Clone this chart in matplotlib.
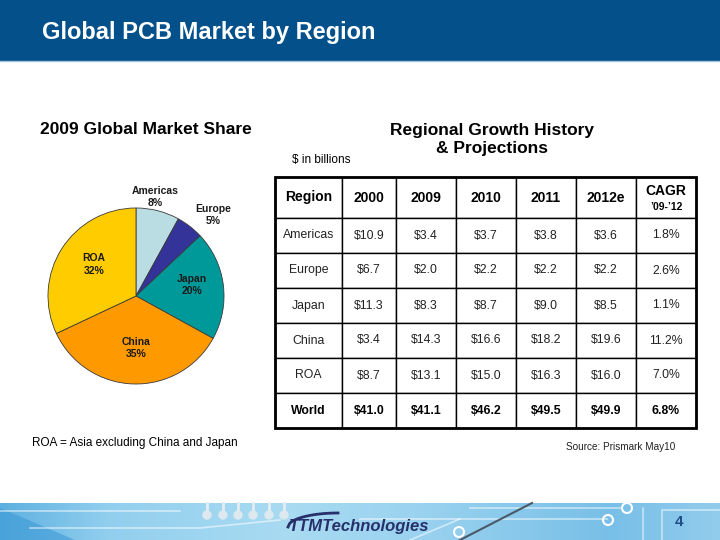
import numpy as np
import matplotlib.pyplot as plt
from matplotlib.patches import Rectangle, Circle, Polygon
from matplotlib.colors import LinearSegmentedColormap

plt.rcParams['font.family'] = ['Liberation Sans', 'DejaVu Sans']

# 2009 market share (pie)
regions = ['Americas', 'Europe', 'Japan', 'China', 'ROA']
share = [8, 5, 20, 35, 32]
pie_colors = ['#b9dde3', '#333399', '#009999', '#ff9900', '#ffcc00']

# regional growth table, $ in billions
col_labels = ['Region', '2000', '2009', '2010', '2011', '2012e', '']
row_names = ['Americas', 'Europe', 'Japan', 'China', 'ROA', 'World']
val_2000 = [10.9, 6.7, 11.3, 3.4, 8.7, 41.0]
val_2009 = [3.4, 2.0, 8.3, 14.3, 13.1, 41.1]
val_2010 = [3.7, 2.2, 8.7, 16.6, 15.0, 46.2]
val_2011 = [3.8, 2.2, 9.0, 18.2, 16.3, 49.5]
val_2012 = [3.6, 2.2, 8.5, 19.6, 16.0, 49.9]
cagr = [1.8, 2.6, 1.1, 11.2, 7.0, 6.8]


fig = plt.figure(figsize=(7.2, 5.4), dpi=100)
bg = fig.add_axes([0, 0, 1, 1])
bg.axis('off')

# footer band with a rough circuit look
grad = np.linspace(0, 1, 256).reshape(1, -1)
cmap = LinearSegmentedColormap.from_list('foot', [(0, '#5eb0e0'), (0.15, '#92cfee'), (0.4, '#a9dbf2'),
	(0.6, '#98d1ef'), (0.85, '#78bfe7'), (1, '#92ccec')])
bg.imshow(grad, extent=(0, 720, 540, 503), aspect='auto', cmap=cmap, zorder=0)
bg.add_patch(Polygon([(0, 508), (75, 540), (0, 540)], color='#3d9ad6', alpha=0.6, lw=0, zorder=1))
for xs, ys in [([0, 40, 180], [511, 511, 511]), ([30, 200, 280], [528, 528, 520]),
               ([360, 607], [519, 519]), ([470, 622], [508, 508]),
               ([643, 643], [508, 540]), ([662, 662, 720], [540, 510, 510]),
               ([410, 460], [540, 519])]:
	bg.plot(xs, ys, color='white', alpha=0.55, lw=1.2, zorder=1)
bg.plot([532, 460], [503, 540], color='#4a5a66', lw=1.5, zorder=2)
for cx in [207, 223, 238, 253, 269, 284]:
	bg.plot([cx, cx], [503, 515], color='#e4edf1', lw=2, zorder=1)
	bg.add_patch(Circle((cx, 515), 4, color='#dde9ef', zorder=2))
for cx, cy in [(459, 532), (608, 520), (627, 508)]:
	bg.add_patch(Circle((cx, cy), 5, fill=False, ec='white', lw=1.5, zorder=2))
sx = np.linspace(288, 338, 30)
bg.plot(sx, 527 - 14 * np.sqrt(1 - ((sx - 338) / 50) ** 2), color='#27306b', lw=2, zorder=3)
bg.text(359, 526, 'TTMTechnologies', fontsize=12, style='italic', weight='bold',
	color='#27306b', ha='center', va='center', zorder=3)
bg.text(679, 522, '4', fontsize=11, weight='bold', color='#1f4f8a', ha='center', va='center')

# header
bg.add_patch(Rectangle((0, 0), 720, 60, color='#03508a', zorder=1))
bg.plot([0, 720], [60.5, 60.5], color='#a8c6da', lw=1, zorder=1)
bg.text(42, 39, 'Global PCB Market by Region', fontsize=17, weight='bold',
	color='white', va='baseline', zorder=2)

bg.set_xlim(0, 720)
bg.set_ylim(540, 0)

# titles and notes
bg.text(40, 130, '2009 Global Market Share', fontsize=12.5, weight='bold', va='center')
bg.text(492, 130, 'Regional Growth History', fontsize=12.5, weight='bold', ha='center', va='center')
bg.text(492, 148, '& Projections', fontsize=12.5, weight='bold', ha='center', va='center')
bg.text(292, 160, '$ in billions', fontsize=8.5, va='center')
bg.text(32, 443, 'ROA = Asia excluding China and Japan', fontsize=8.5, va='center')
bg.text(566, 447, 'Source: Prismark May10', fontsize=7.2, va='center', color='#222222')

# table
col_w = [67, 54, 60, 60, 60, 60, 60]
head_h, row_h = 41, 35
left, top = 275, 177
tot_w = sum(col_w)
tot_h = head_h + row_h * len(row_names)
cells = []
for i, name in enumerate(row_names):
	vals = [val_2000[i], val_2009[i], val_2010[i], val_2011[i], val_2012[i]]
	cells.append([name] + ['${:.1f}'.format(v) for v in vals] + ['{:.1f}%'.format(cagr[i])])

tbl = bg.table(cellText=cells, colLabels=col_labels, colWidths=col_w, cellLoc='center',
	bbox=[left / 720, 1 - (top + tot_h) / 540, tot_w / 720, tot_h / 540])
tbl.auto_set_font_size(False)
for (r, c), cell in tbl.get_celld().items():
	cell.set_edgecolor('black')
	cell.set_linewidth(1)
	cell.set_height(head_h if r == 0 else row_h)
	txt = cell.get_text()
	if r == 0:
		txt.set_fontsize(10)
		txt.set_weight('bold')
	elif r == len(row_names):
		txt.set_fontsize(8.8)
		txt.set_weight('bold')
	else:
		txt.set_fontsize(8.8)
		txt.set_color('#222222')
cx = left + sum(col_w[:-1]) + col_w[-1] / 2
bg.text(cx, top + 14, 'CAGR', fontsize=10, weight='bold', ha='center', va='center')
bg.text(cx, top + 30, '\u201909-\u201912', fontsize=7.5, weight='bold', ha='center', va='center')
bg.add_patch(Rectangle((left, top), tot_w, tot_h, fill=False, ec='black', lw=2, zorder=5))

# pie
R = 88
lim = 1.35
pcx, pcy = 136, 296
half = R * lim
pax = fig.add_axes([(pcx - half) / 720, 1 - (pcy + half) / 540, 2 * half / 720, 2 * half / 540])
wedges, _ = pax.pie(share, colors=pie_colors, startangle=90, counterclock=False,
	wedgeprops=dict(edgecolor='#3a3a3a', linewidth=0.6))
pax.set_xlim(-lim, lim)
pax.set_ylim(-lim, lim)
pax.set_aspect('equal')
label_xy = [(0.22, 1.125), (0.875, 0.92), (0.64, 0.125), (0.0, -0.59), (-0.48, 0.36)]
for name, pct, (lx, ly) in zip(regions, share, label_xy):
	pax.text(lx, ly, '{0}\n{1}%'.format(name, pct), fontsize=7.5, weight='bold',
		ha='center', va='center', color='#1a1a1a', linespacing=1.3)

fig.savefig('out.png', dpi=100)
